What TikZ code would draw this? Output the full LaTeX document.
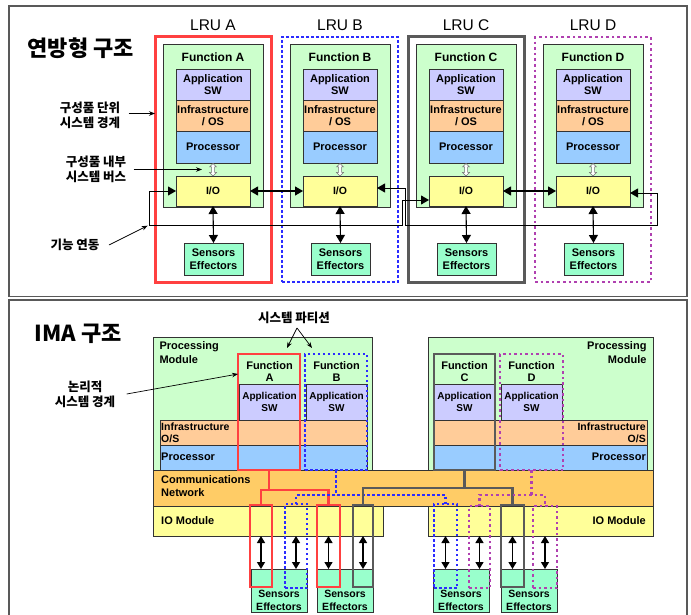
\documentclass[tikz,border=0pt]{standalone}
\usepackage{fontspec}
\setmainfont{Liberation Sans}
\newfontfamily\kr{Noto Sans CJK KR}
\usetikzlibrary{arrows.meta,calc}
\definecolor{fgreen}{HTML}{CCFFCC}
\definecolor{lav}{HTML}{CCCCFF}
\definecolor{peach}{HTML}{FFCC99}
\definecolor{pblue}{HTML}{99CCFF}
\definecolor{yel}{HTML}{FFFF99}
\definecolor{mint}{HTML}{99FFCC}
\definecolor{commc}{HTML}{FFCC66}
\definecolor{pred}{HTML}{FF4040}
\definecolor{pblu}{HTML}{2B2BFF}
\definecolor{pblk}{HTML}{5A5A5A}
\definecolor{ppur}{HTML}{B040B0}
\newcommand\Bx[7]{\node[#1,anchor=north west,inner sep=0pt,outer sep=0pt,
  minimum width={((#5)-(#3))*1pt},minimum height={((#6)-(#4))*1pt}] (#2) at (#3,#4) {#7};}
\newcommand\hol[1]{\filldraw[draw=black!55,fill=white,line width=0.5pt]
  (#1-1.5,167) -- (#1-3.5,167) -- (#1,163.5) -- (#1+3.5,167) -- (#1+1.5,167) --
  (#1+1.5,172.5) -- (#1+3.5,172.5) -- (#1,176) -- (#1-3.5,172.5) -- (#1-1.5,172.5) -- cycle;}
\begin{document}
\begin{tikzpicture}[x=1pt,y=-1pt,
  box/.style={draw=black!80,line width=0.9pt},
  fn/.style={box,fill=fgreen},
  inner/.style={box,align=center,font=\fontsize{11}{12}\selectfont\bfseries},
  app/.style={inner,fill=lav},
  infra/.style={inner,fill=peach,font=\fontsize{11}{12.5}\selectfont\bfseries},
  proc/.style={inner,fill=pblue},
  io/.style={inner,fill=yel,font=\fontsize{10.5}{12}\selectfont\bfseries},
  sens/.style={inner,fill=mint,font=\fontsize{11}{12.5}\selectfont\bfseries},
  lru/.style={font=\fontsize{15.5}{17}\selectfont},
  ftitle/.style={font=\fontsize{12}{14}\selectfont\bfseries},
  lred/.style={draw=pred,line width=3pt},
  lblu/.style={draw=pblu,line width=2.8pt,dash pattern=on 2.6pt off 2.4pt},
  lblk/.style={draw=pblk,line width=3pt},
  lpur/.style={draw=ppur,line width=2.8pt,dash pattern=on 2.6pt off 3pt},
  redB/.style={draw=pred,line width=2.6pt},
  bluB/.style={draw=pblu,line width=2.6pt,dash pattern=on 2.5pt off 2.5pt},
  blkB/.style={draw=pblk,line width=2.8pt},
  purB/.style={draw=ppur,line width=2.6pt,dash pattern=on 2.5pt off 3pt},
  dbl/.style={line width=1.1pt,>={Triangle[length=8pt,width=9pt]},<->},
  dblB/.style={line width=1.3pt,>={Triangle[length=7pt,width=8pt]},<->},
  bus/.style={line width=0.9pt,>={Triangle[length=8pt,width=9pt]},<->},
  ann/.style={line width=0.7pt,>={Stealth[length=6pt,width=4.5pt]},->},
  kr12/.style={font=\kr\bfseries\fontsize{12.5}{15}\selectfont,align=center},
  panel/.style={draw=black!65,line width=1.6pt},
  pm/.style={box,fill=fgreen},
  bt/.style={font=\fontsize{11}{12.5}\selectfont\bfseries},
  appB/.style={box,fill=lav,align=center,font=\fontsize{10}{11.5}\selectfont\bfseries},
  sensB/.style={box,fill=mint}
]
\useasboundingbox (0,0) rectangle (691,615);
\fill[white] (0,0) rectangle (691,615);
% ---------- panels ----------
\draw[panel] (9,6) rectangle (687,296.5);
\draw[panel] (9,300) rectangle (687,625);
% ---------- top panel ----------
\node[anchor=west,font=\kr\bfseries\fontsize{22}{24}\selectfont] (title1) at (24,48) {연방형 구조};
\foreach \L/\x/\s in {A/163/lred,B/290/lblu,C/416/lblk,D/543/lpur} {
  \Bx{\s}{lru\L}{\x-8}{37}{\x+108}{282}{}
  \node[lru] (lt\L) at (\x+50,25) {LRU \L};
  \Bx{fn}{f\L}{\x}{44}{\x+100}{207}{}
  \node[ftitle] (ft\L) at (\x+50,57) {Function \L};
  \Bx{app}{app\L}{\x+13}{69}{\x+87}{100}{Application\\SW}
  \Bx{infra}{inf\L}{\x+13}{100}{\x+87}{131}{Infrastructure\\/ OS}
  \Bx{proc}{pr\L}{\x+13}{131}{\x+87}{163}{Processor}
  \Bx{io}{io\L}{\x+13}{176}{\x+87}{206}{I/O}
  \Bx{sens}{se\L}{\x+21}{243}{\x+80}{275}{Sensors\\Effectors}
  \hol{\x+50}
  \coordinate (hol\L) at (\x+50,169.5);
  \draw[dbl] (io\L.south) -- (se\L.north);
}
\draw[dbl] (ioA.east) -- (ioB.west);
\draw[dbl] (ioC.east) -- (ioD.west);
\draw[bus] ([yshift=-9pt]ioC.west) -- (402,200) -- (402,225) -- (149,225) coordinate (busCorner) -- (149,191) -- (ioA.west);
\draw[bus] ([yshift=3pt]ioB.east) -- (405,188) -- (405,225) -- (657,225) -- (657,193) -- ([yshift=-2pt]ioD.east);
% annotations
\node[kr12] (lbl1) at (90,115.5) {구성품 단위\\시스템 경계};
\draw[ann] ([xshift=5pt,yshift=2pt]lbl1.east) coordinate (a1s) -- (a1s -| lruA.west);
\node[kr12] (lbl2) at (96,169.5) {구성품 내부\\시스템 버스};
\draw[ann] ([xshift=4pt]lbl2.east) -- ([xshift=-11pt]holA);
\node[kr12] (lbl3) at (75,245) {기능 연동};
\draw[ann,shorten >=1.5pt] ([xshift=6pt]lbl3.east) -- (busCorner);
% ---------- bottom panel ----------
\node[anchor=west,font=\kr\bfseries\fontsize{22}{24}\selectfont] (title2) at (31,334) {IMA 구조};
\Bx{pm}{pmL}{153}{337}{372}{470}{}
\Bx{pm}{pmR}{428}{337}{653}{470}{}
\Bx{box,fill=peach}{infL}{160}{420}{367}{445}{}
\Bx{box,fill=pblue}{prL}{160}{445}{367}{470}{}
\Bx{box,fill=peach}{infR}{434}{420}{647}{445}{}
\Bx{box,fill=pblue}{prR}{434}{445}{647}{470}{}
\Bx{box,fill=commc}{comm}{153}{470}{653}{506}{}
\Bx{box,fill=yel}{iomL}{153}{506}{383}{536}{}
\Bx{box,fill=yel}{iomR}{428}{506}{653}{536}{}
\Bx{appB}{aA}{239}{384}{300}{420}{Application\\SW}
\Bx{appB}{aB}{306}{384}{367}{420}{Application\\SW}
\Bx{appB}{aC}{434}{384}{495}{420}{Application\\SW}
\Bx{appB}{aD}{501}{384}{562}{420}{Application\\SW}
\node[bt,anchor=north west,align=left,font=\fontsize{11}{13.5}\selectfont\bfseries] (pmLt) at (156,338) {Processing\\Module};
\node[bt,anchor=north east,align=right,font=\fontsize{11}{13.5}\selectfont\bfseries] (pmRt) at (650,338) {Processing\\Module};
\node[bt,align=center,font=\fontsize{11}{12}\selectfont\bfseries] (fnA) at (269.5,372) {Function\\A};
\node[bt,align=center,font=\fontsize{11}{12}\selectfont\bfseries] (fnB) at (336.5,372) {Function\\B};
\node[bt,align=center,font=\fontsize{11}{12}\selectfont\bfseries] (fnC) at (464.5,372) {Function\\C};
\node[bt,align=center,font=\fontsize{11}{12}\selectfont\bfseries] (fnD) at (531.5,372) {Function\\D};
\node[bt,anchor=west,align=left,font=\fontsize{10.5}{11.5}\selectfont\bfseries,inner sep=1pt] (tInfL) at (160,433) {Infrastructure\\O/S};
\node[bt,anchor=east,align=right,font=\fontsize{10.5}{11.5}\selectfont\bfseries,inner sep=1pt] (tInfR) at (647,433) {Infrastructure\\O/S};
\node[bt,anchor=west,inner sep=1pt] (tPrL) at (160,457) {Processor};
\node[bt,anchor=east,inner sep=1pt] (tPrR) at (647,457) {Processor};
\node[bt,anchor=west,align=left,font=\fontsize{11}{13}\selectfont\bfseries,inner sep=1pt] (tComm) at (160,486) {Communications\\Network};
\node[bt,anchor=west,inner sep=1pt] (tIoL) at (160,521) {IO Module};
\node[bt,anchor=east,inner sep=1pt] (tIoR) at (647,521) {IO Module};
% sensors
\Bx{sensB}{sL1}{251}{569}{307}{612}{}
\Bx{sensB}{sL2}{317}{569}{373}{612}{}
\Bx{sensB}{sR1}{433}{569}{489}{612}{}
\Bx{sensB}{sR2}{501}{569}{557}{612}{}
\foreach \s in {sL1,sL2,sR1,sR2} {
  \node[align=center,font=\fontsize{10.5}{12.5}\selectfont\bfseries,inner sep=0pt] (t\s) at ($(\s.south)+(0,-11.5)$) {Sensors\\Effectors};
}
% partitions
\Bx{redB}{colA}{238}{354}{300}{470}{}
\Bx{bluB}{colB}{305}{354}{367}{470}{}
\Bx{blkB}{colC}{434}{354}{495}{470}{}
\Bx{purB}{colD}{500}{354}{563}{470}{}
\Bx{redB}{rA1}{250}{505}{272}{587}{}
\Bx{redB}{rA2}{317}{505}{340}{587}{}
\Bx{bluB}{rB1}{285}{504}{307}{588}{}
\Bx{bluB}{rB2}{434}{504}{457}{588}{}
\Bx{blkB}{rC1}{353}{505}{373}{587}{}
\Bx{blkB}{rC2}{501}{505}{524}{587}{}
\Bx{purB}{rD1}{469}{506}{490}{588}{}
\Bx{purB}{rD2}{533}{506}{557}{588}{}
\draw[redB] (colA.south) -- ++(0,20);
\draw[redB] (rA1.north) -- ++(0,-15) -| (rA2.north);
\draw[bluB] (colB.south) -- ++(0,25);
\draw[bluB] (rB1.north) -- ++(0,-9) -| (rB2.north);
\draw[blkB] (colC.south) -- ++(0,18);
\draw[blkB] (rC1.north) -- ++(0,-17) -| (rC2.north);
\draw[purB] (colD.south) -- ++(0,25);
\draw[purB] (rD1.north) -- ++(0,-11) -| (rD2.north);
% io-sensor arrows
\foreach \r/\m/\s in {rA1/iomL/sL1,rB1/iomL/sL1,rA2/iomL/sL2,rC1/iomL/sL2,rB2/iomR/sR1,rD1/iomR/sR1,rC2/iomR/sR2,rD2/iomR/sR2} {
  \draw[dblB] (\m.south -| \r) -- (\s.north -| \r);
}
% labels
\node[kr12] (lblPart) at (294,318) {시스템 파티션};
\coordinate (pv) at (297,328);
\draw[ann] (pv) -- ([xshift=18pt,yshift=6pt]colA.north);
\draw[ann] (pv) -- ([xshift=-24pt,yshift=6pt]colB.north);
\node[kr12] (lblLog) at (85,394) {논리적\\시스템 경계};
\draw[ann] ([xshift=8pt]lblLog.east) -- ([yshift=-20pt]colA.north west);
\end{tikzpicture}
\end{document}
